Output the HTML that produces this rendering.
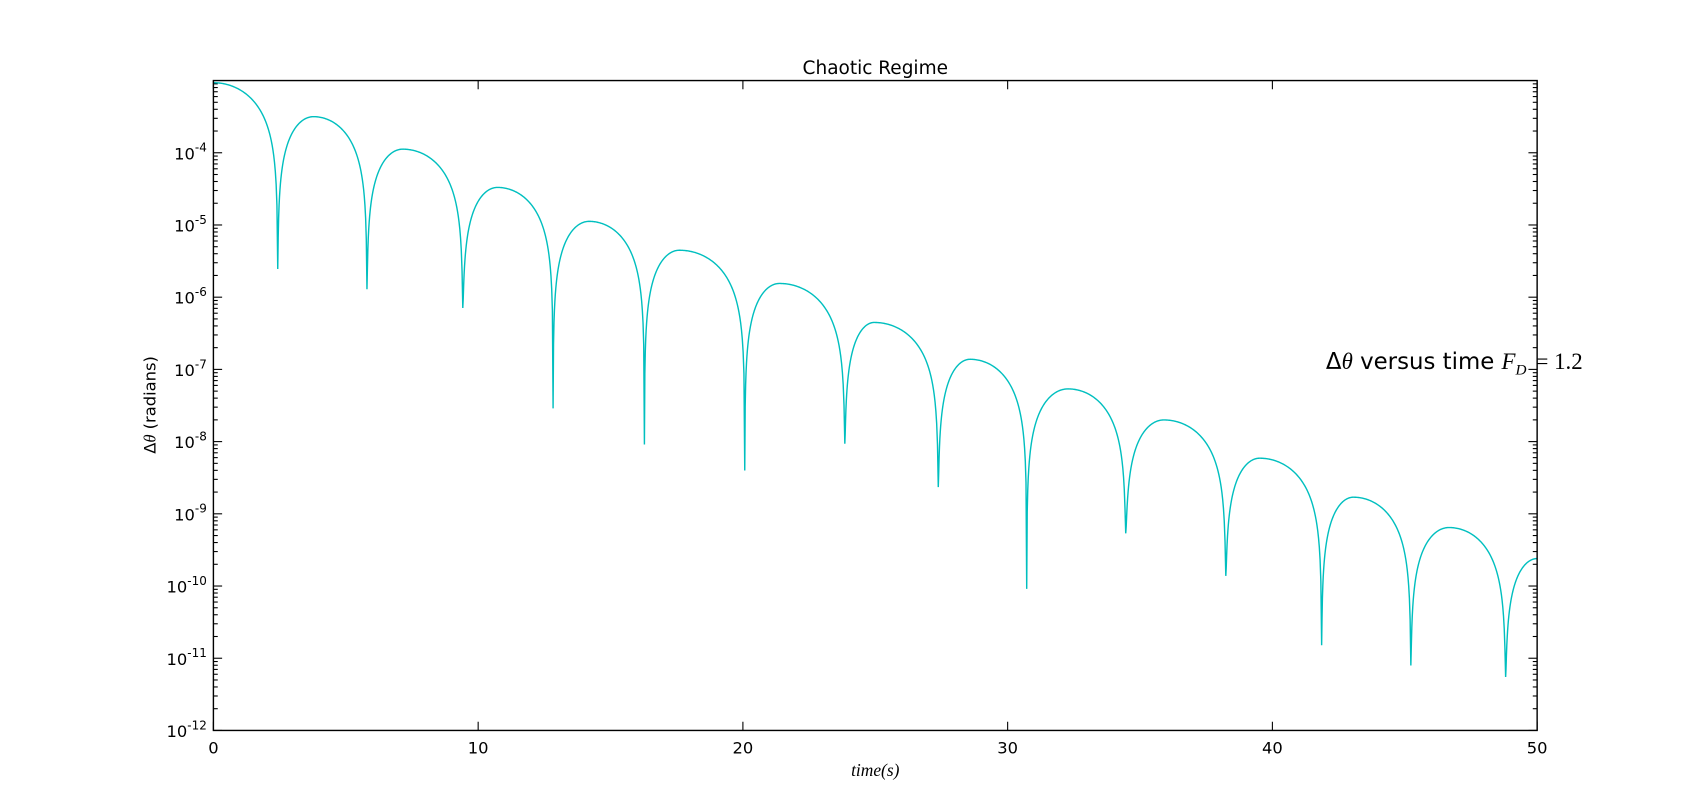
<!DOCTYPE html>
<html><head><meta charset="utf-8">
<style>
body{margin:0;background:#fff;}
svg{display:block;font-family:"DejaVu Sans","Liberation Sans",sans-serif;}
</style></head>
<body>
<svg id="chart" width="1707" height="811" viewBox="0 0 1568 745" xmlns="http://www.w3.org/2000/svg">
<rect x="0" y="0" width="1568" height="745" fill="#fff"/>
<text x="804" y="68" font-size="17" text-anchor="middle">Chaotic Regime</text>
<g id="ticks"></g>
<g id="series"></g>
<rect x="196" y="74" width="1216" height="597" fill="none" stroke="#000" stroke-width="1.3"/>
<text x="804" y="713" font-size="16" font-style="italic" font-family="Liberation Serif,serif" text-anchor="middle">time(s)</text>
<text transform="translate(143,372) rotate(-90)" font-size="15" text-anchor="middle">Δ<tspan font-style="italic" font-family="Liberation Serif,serif">θ</tspan> (radians)</text>
<text x="1218" y="339" font-size="21">Δ<tspan font-style="italic" font-family="Liberation Serif,serif">θ</tspan> versus time <tspan font-style="italic" font-family="Liberation Serif,serif">F<tspan font-size="14" dy="5">D</tspan><tspan dy="-5" dx="3" font-style="normal"> = 1.2</tspan></tspan></text>
</svg>
<script>
const xTicks=[0,10,20,30,40,50];
const yDecades=[-12,-11,-10,-9,-8,-7,-6,-5,-4];
const minT=[2.43,5.80,9.42,12.83,16.28,20.07,23.85,27.38,30.72,34.46,38.24,41.86,45.23,48.81];
const minLog=[-5.61,-5.89,-6.15,-7.54,-8.04,-8.40,-8.03,-8.63,-10.04,-9.27,-9.86,-10.82,-11.10,-11.26];
const peakT=[0,3.78,7.15,10.73,14.19,17.60,21.38,24.96,28.58,32.28,35.90,39.52,43.06,46.67,50];
const peakLog=[-3.03,-3.50,-3.95,-4.48,-4.95,-5.35,-5.81,-6.35,-6.86,-7.27,-7.70,-8.23,-8.77,-9.19,-9.62];

const X0=196,X1=1412,Y0=671,Y1=74,LMIN=-12,LMAX=-3;
const xs=t=>X0+(t-0)/(50-0)*(X1-X0);
const ys=l=>Y0-(l-LMIN)/(LMAX-LMIN)*(Y0-Y1);
const NS="http://www.w3.org/2000/svg";
const tg=document.getElementById('ticks');
function line(x1,y1,x2,y2){const e=document.createElementNS(NS,'line');e.setAttribute('x1',x1);e.setAttribute('y1',y1);e.setAttribute('x2',x2);e.setAttribute('y2',y2);e.setAttribute('stroke','#000');e.setAttribute('stroke-width','1');tg.appendChild(e);return e;}
xTicks.forEach(t=>{
  const x=xs(t);
  const a=line(x,Y0,x,Y0-8);
  
  
  const b=line(x,Y1,x,Y1+8);
  
  
  const tx=document.createElementNS(NS,'text');
  tx.setAttribute('x',x);tx.setAttribute('y',Y0+21);tx.setAttribute('font-size','15');tx.setAttribute('text-anchor','middle');
  tx.textContent=t;
  
  
  tg.appendChild(tx);
});
for(let d=LMIN;d<LMAX;d++){
  for(let m=2;m<=9;m++){
    const y=ys(d+Math.log10(m));
    const a=line(X0,y,X0+4,y);
    
    
    const b=line(X1,y,X1-4,y);
    
    
  }
}
yDecades.forEach(d=>{
  const y=ys(d);
  const a=line(X0,y,X0+8,y);
  
  
  const b=line(X1,y,X1-8,y);
  
  
  const tx=document.createElementNS(NS,'text');
  tx.setAttribute('x',X0-6);tx.setAttribute('y',y+6);tx.setAttribute('font-size','15');tx.setAttribute('text-anchor','end');
  tx.innerHTML='10<tspan font-size="11" dy="-7">'+d+'</tspan>';
  
  
  tg.appendChild(tx);
});
let pts=[];
function seg(tA,lA,tB,lB,rising){
  const N=80;
  const pk=rising?lB:lA, mn=rising?lA:lB;
  const P=Math.pow(10,pk),M=Math.pow(10,mn);
  for(let i=0;i<=N;i++){
    const s=i/N, t=tA+(tB-tA)*s;
    const f=rising?Math.sin(s*Math.PI/2):Math.cos(s*Math.PI/2);
    const v=Math.sqrt((P*f)*(P*f)+M*M);
    pts.push([xs(t),ys(Math.log10(v))]);
  }
}
for(let i=0;i<minT.length;i++){
  seg(peakT[i],peakLog[i],minT[i],minLog[i],false);
  seg(minT[i],minLog[i],peakT[i+1],peakLog[i+1],true);
}
const p=document.createElementNS(NS,'path');
p.setAttribute('d','M'+pts.map(q=>q[0].toFixed(2)+','+q[1].toFixed(2)).join('L'));
p.setAttribute('fill','none');p.setAttribute('stroke','#00bfbf');p.setAttribute('stroke-width','1.3');


document.getElementById('series').appendChild(p);
</script>
</body></html>
